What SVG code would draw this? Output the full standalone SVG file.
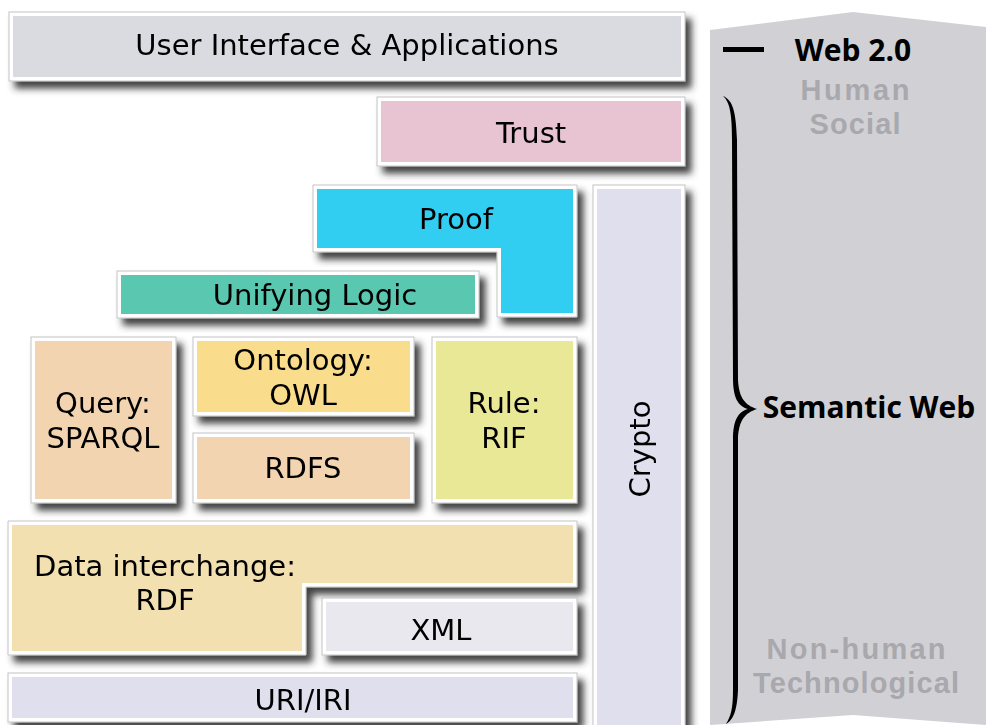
<svg xmlns="http://www.w3.org/2000/svg" width="986" height="725" viewBox="0 0 986 725">
<defs>
<filter id="sh" x="-10%" y="-20%" width="130%" height="150%">
<feGaussianBlur in="SourceAlpha" stdDeviation="3.5"/>
<feOffset dx="6" dy="7" result="b"/>
<feFlood flood-color="#2e2e2e" flood-opacity="0.9"/>
<feComposite in2="b" operator="in"/>
<feMerge><feMergeNode/><feMergeNode in="SourceGraphic"/></feMerge>
</filter>
</defs>
<style>
.o{fill:#fff;stroke:#c4c4c4;stroke-width:1}
.t{font-family:"DejaVu Sans",Verdana,sans-serif;font-size:29px;fill:#000;text-anchor:middle}
.r{font-family:"Open Sans","Noto Sans",sans-serif;font-weight:bold;font-size:30px;text-anchor:middle}
.g{font-family:"Liberation Sans",Arial,sans-serif;font-weight:bold;font-size:29px;fill:#a8a8ad;text-anchor:middle}
</style>
<rect width="986" height="725" fill="#fff"/>
<g id="banner">
<path d="M710,30 L853,12 L986,27 L986,725 L853,715 L710,725 Z" fill="#d1d1d5"/>
<rect x="723" y="47" width="41" height="5" fill="#000"/>
<path d="M723,96 C733,100 736,112 737,140 L738,380 C739,398 745,405 757,409 C745,413 739,420 738,438 L738,690 C737,712 733,720 726,724 C731,716 733,708 733,690 L733,440 C733,420 738,412 748,409 C738,406 733,398 733,378 L732,140 C732,115 730,102 723,96 Z" fill="#000"/>
<text class="r" x="853" y="61" fill="#000">Web 2.0</text>
<text class="g" x="855" y="100" textLength="109" lengthAdjust="spacing">Human</text>
<text class="g" x="855" y="134" textLength="91" lengthAdjust="spacing">Social</text>
<text class="r" x="869" y="418" font-size="29" fill="#000">Semantic Web</text>
<text class="g" x="856" y="659" textLength="179" lengthAdjust="spacing">Non-human</text>
<text class="g" x="856" y="693" textLength="206" lengthAdjust="spacing">Technological</text>
</g>
<g id="ui" filter="url(#sh)">
<rect class="o" x="9" y="12" width="676" height="69"/>
<rect x="13" y="16" width="668" height="61" fill="#dadbe0"/>
<text class="t" x="347" y="55">User Interface &amp; Applications</text>
</g>
<g id="trust" filter="url(#sh)">
<rect class="o" x="377" y="97" width="308" height="69"/>
<rect x="381" y="101" width="300" height="61" fill="#e8c3d1"/>
<text class="t" x="531" y="143">Trust</text>
</g>
<g id="crypto" filter="url(#sh)">
<rect class="o" x="593" y="185" width="92" height="545"/>
<rect x="597" y="189" width="84" height="545" fill="#dfdfee"/>
<text class="t" transform="translate(650,449) rotate(-90)">Crypto</text>
</g>
<g id="proof" filter="url(#sh)">
<path class="o" d="M313,185 H577 V317 H497 V252 H313 Z"/>
<path d="M317,189 H573 V313 H501 V248 H317 Z" fill="#30cef2"/>
<text class="t" x="456" y="229">Proof</text>
</g>
<g id="logic" filter="url(#sh)">
<rect class="o" x="117" y="271" width="362" height="47"/>
<rect x="121" y="275" width="354" height="39" fill="#5ac8b0"/>
<text class="t" x="315" y="305">Unifying Logic</text>
</g>
<g id="query" filter="url(#sh)">
<rect class="o" x="31" y="337" width="145" height="166"/>
<rect x="35" y="341" width="137" height="158" fill="#f2d5b0"/>
<text class="t" x="103" y="413">Query:</text>
<text class="t" x="103" y="448">SPARQL</text>
</g>
<g id="ontology" filter="url(#sh)">
<rect class="o" x="193" y="337" width="221" height="79"/>
<rect x="197" y="341" width="213" height="71" fill="#f9dc8c"/>
<text class="t" x="303" y="370">Ontology:</text>
<text class="t" x="303" y="405">OWL</text>
</g>
<g id="rdfs" filter="url(#sh)">
<rect class="o" x="193" y="433" width="221" height="70"/>
<rect x="197" y="437" width="213" height="62" fill="#f2d5b0"/>
<text class="t" x="303" y="478">RDFS</text>
</g>
<g id="rule" filter="url(#sh)">
<rect class="o" x="432" y="337" width="145" height="166"/>
<rect x="436" y="341" width="137" height="158" fill="#e8e896"/>
<text class="t" x="504" y="413">Rule:</text>
<text class="t" x="504" y="448">RIF</text>
</g>
<g id="rdf" filter="url(#sh)">
<path class="o" d="M8,521 H577 V587 H306 V655 H8 Z"/>
<path d="M12,525 H573 V583 H302 V651 H12 Z" fill="#f2e0b0"/>
<text class="t" x="165" y="576">Data interchange:</text>
<text class="t" x="165" y="610">RDF</text>
</g>
<g id="xml" filter="url(#sh)">
<rect class="o" x="322" y="598" width="255" height="57"/>
<rect x="326" y="602" width="247" height="49" fill="#e8e8ee"/>
<text class="t" x="441" y="640">XML</text>
</g>
<g id="uri" filter="url(#sh)">
<rect class="o" x="8" y="673" width="569" height="49"/>
<rect x="12" y="677" width="561" height="41" fill="#dfdfee"/>
<text class="t" x="303" y="710">URI/IRI</text>
</g>
<g id="connectors"/>
</svg>
